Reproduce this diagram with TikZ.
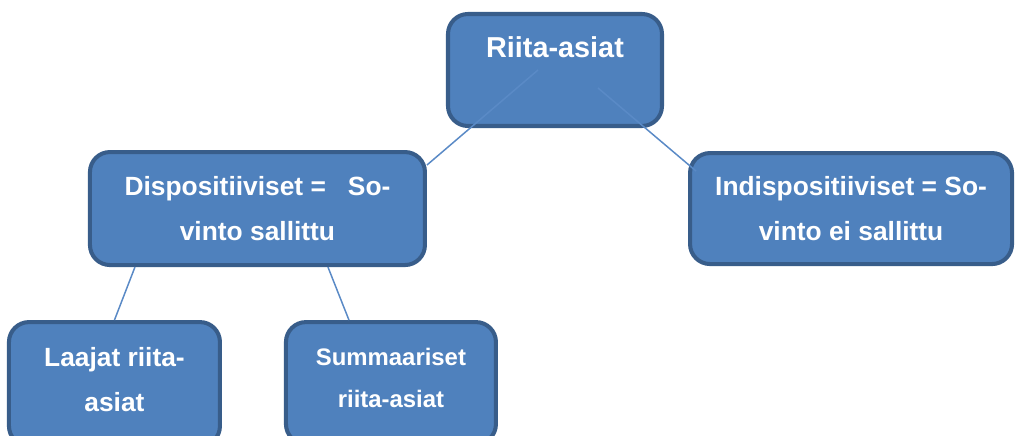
\documentclass[tikz,border=0pt]{standalone}
\usepackage{fontspec}
\setmainfont{Liberation Sans}
\usepackage{xcolor}
\usepackage{tikz}
\usetikzlibrary{positioning}
\definecolor{boxfill}{HTML}{4F81BD}
\definecolor{boxedge}{HTML}{385D8A}
\definecolor{linkblue}{HTML}{5A8AC6}
\tikzset{
  riita box/.style={rectangle, rounded corners=0.4cm, draw=boxedge, line width=2.3pt, fill=boxfill, text=white, align=center},
  riita link/.style={draw=linkblue, line width=0.85pt}
}

\begin{document}
\begin{tikzpicture}
    \useasboundingbox (0,0) rectangle (20.34,-8.72);
    % top level
    \node [riita box, minimum width=4.28cm, minimum height=2.24cm, font={\fontsize{16.4}{25.6}\selectfont\bfseries}] (root) at (11.10,-1.40) {Riita-asiat\\\phantom{R}};
    \node [riita box, minimum width=6.70cm, minimum height=2.26cm, font={\fontsize{15}{25.6}\selectfont\bfseries}, below left=0.44cm and 0.38cm of root] (disp) {Dispositiiviset =\ \ \ So-\\vinto sallittu};
    \node [riita box, minimum width=6.44cm, minimum height=2.22cm, font={\fontsize{15}{25.6}\selectfont\bfseries}, below right=0.46cm and 0.48cm of root] (indisp) {Indispositiiviset = So-\\vinto ei sallittu};

    % under dispositiiviset (cut by the page bottom)
    \node [riita box, minimum width=4.22cm, minimum height=2.48cm, text depth=0.2cm, font={\fontsize{15}{25.6}\selectfont\bfseries}, below=1.06cm of disp, xshift=-2.86cm] (laajat) {Laajat riita-\\asiat};
    \node [riita box, minimum width=4.20cm, minimum height=2.44cm, text depth=0.2cm, font={\fontsize{13.6}{23.9}\selectfont\bfseries}, below=1.06cm of disp, xshift=2.67cm] (summ) {Summaariset\\riita-asiat};

    \draw [riita link] ([xshift=-0.34cm]root.center) -- ([yshift=-0.3cm]disp.north east);
    \draw [riita link] ([xshift=0.86cm,yshift=-0.36cm]root.center) -- ([xshift=0.16cm,yshift=-0.4cm]indisp.north west);
    \draw [riita link] ([xshift=-2.45cm]disp.south) -- (laajat.north);
    \draw [riita link] ([xshift=1.41cm]disp.south) -- ([xshift=-0.84cm]summ.north);
\end{tikzpicture}
\end{document}
